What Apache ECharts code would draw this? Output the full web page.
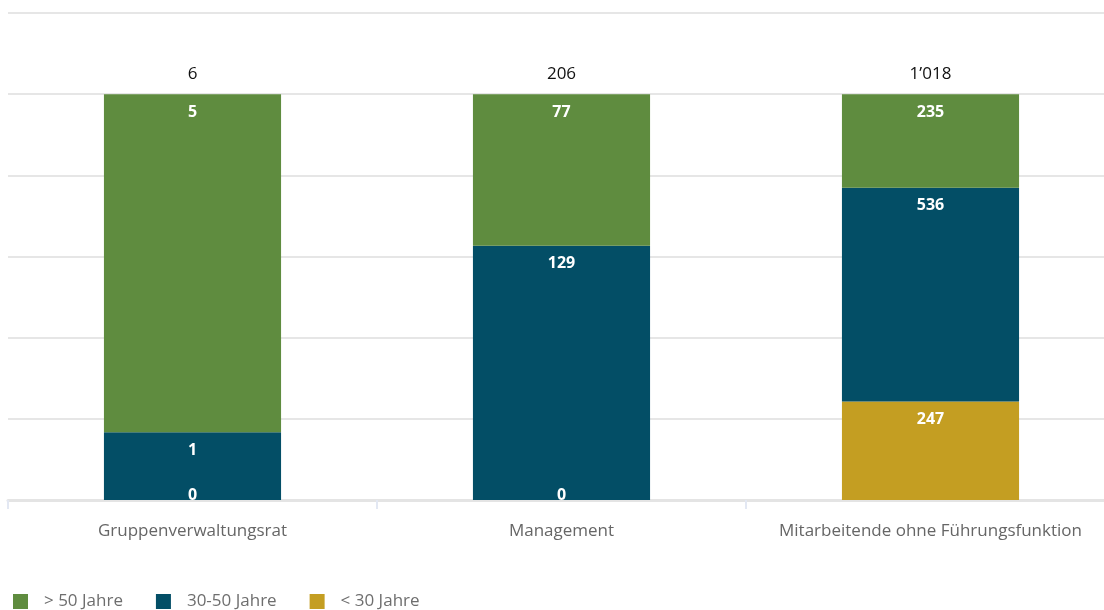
<!DOCTYPE html>
<html>
<head>
<meta charset="utf-8">
<script src="https://cdn.jsdelivr.net/npm/echarts@6/dist/echarts.min.js"></script>
<style>
  html, body { margin: 0; padding: 0; background: #fff; overflow: hidden; }
  #chart { width: 1115px; height: 610px; }
</style>
</head>
<body>
<div id="chart"></div>
<script>
// Altersstruktur je Gruppe (Anzahl Personen)
const categories = ["Gruppenverwaltungsrat", "Management", "Mitarbeitende ohne Führungsfunktion"];
const under30 = [0, 0, 247];
const from30to50 = [1, 129, 536];
const over50 = [5, 77, 235];
const totals = [6, 206, 1018];

const seriesNames = ["< 30 Jahre", "30-50 Jahre", "> 50 Jahre"];
const colors = ["#c49e22", "#034e66", "#5f8c3f"];

function fmtNumber(n) {
  return String(n).replace(/\B(?=(\d{3})+(?!\d))/g, "’");
}

// 100%-Balken: Anteile aus den Rohwerten
function toPercent(values) {
  return values.map((v, i) => {
    let p = v / totals[i] * 100;
    if (v === 0) {
      return { value: p, raw: v, label: { position: "top", distance: -3 } };
    }
    return { value: p, raw: v };
  });
}

let chartDom = document.getElementById("chart");
let myChart = echarts.init(chartDom);

let fontFamily = "Open Sans";

let barSeries = [under30, from30to50, over50].map((vals, idx) => ({
  name: seriesNames[idx],
  type: "bar",
  stack: "total",
  barWidth: "48%",
  itemStyle: { color: colors[idx] },
  label: {
    show: true,
    position: "insideTop",
    distance: 10,
    color: "#fff",
    fontWeight: "bold",
    fontSize: 16,
    fontFamily: fontFamily,
    formatter: p => String(p.data.raw)
  },
  data: toPercent(vals)
}));

// Summen oberhalb der Balken
barSeries.push({
  name: "Total",
  type: "bar",
  stack: "total",
  barWidth: "48%",
  itemStyle: { color: "transparent" },
  label: {
    show: true,
    position: "top",
    distance: 12,
    color: "#111",
    fontSize: 17,
    fontFamily: fontFamily,
    formatter: p => fmtNumber(totals[p.dataIndex])
  },
  data: totals.map(() => 0)
});

let option = {
  animation: false,
  textStyle: { fontFamily: fontFamily },
  grid: { left: 8, top: 13, right: 0, bottom: 110, containLabel: false },
  legend: {
    left: 8,
    top: 588,
    itemWidth: 15,
    itemHeight: 15,
    itemGap: 33,
    icon: "rect",
    data: ["> 50 Jahre", "30-50 Jahre", "< 30 Jahre"],
    textStyle: { color: "#6e6e6e", fontSize: 17, fontFamily: fontFamily, padding: [0, 0, 0, 11] }
  },
  xAxis: {
    type: "category",
    data: categories,
    axisLine: { lineStyle: { color: "#e4e4e4", width: 3 } },
    axisTick: { show: true, length: 9, lineStyle: { color: "#e3e8f3", width: 2 } },
    axisLabel: { color: "#666", fontSize: 17, margin: 23, interval: 0, hideOverlap: false, fontFamily: fontFamily }
  },
  yAxis: {
    type: "value",
    min: 0,
    max: 120,
    interval: 20,
    axisLabel: { show: false },
    splitLine: { lineStyle: { color: "#e6e6e6", width: 2 } }
  },
  series: barSeries
};

myChart.setOption(option);
</script>
</body>
</html>
